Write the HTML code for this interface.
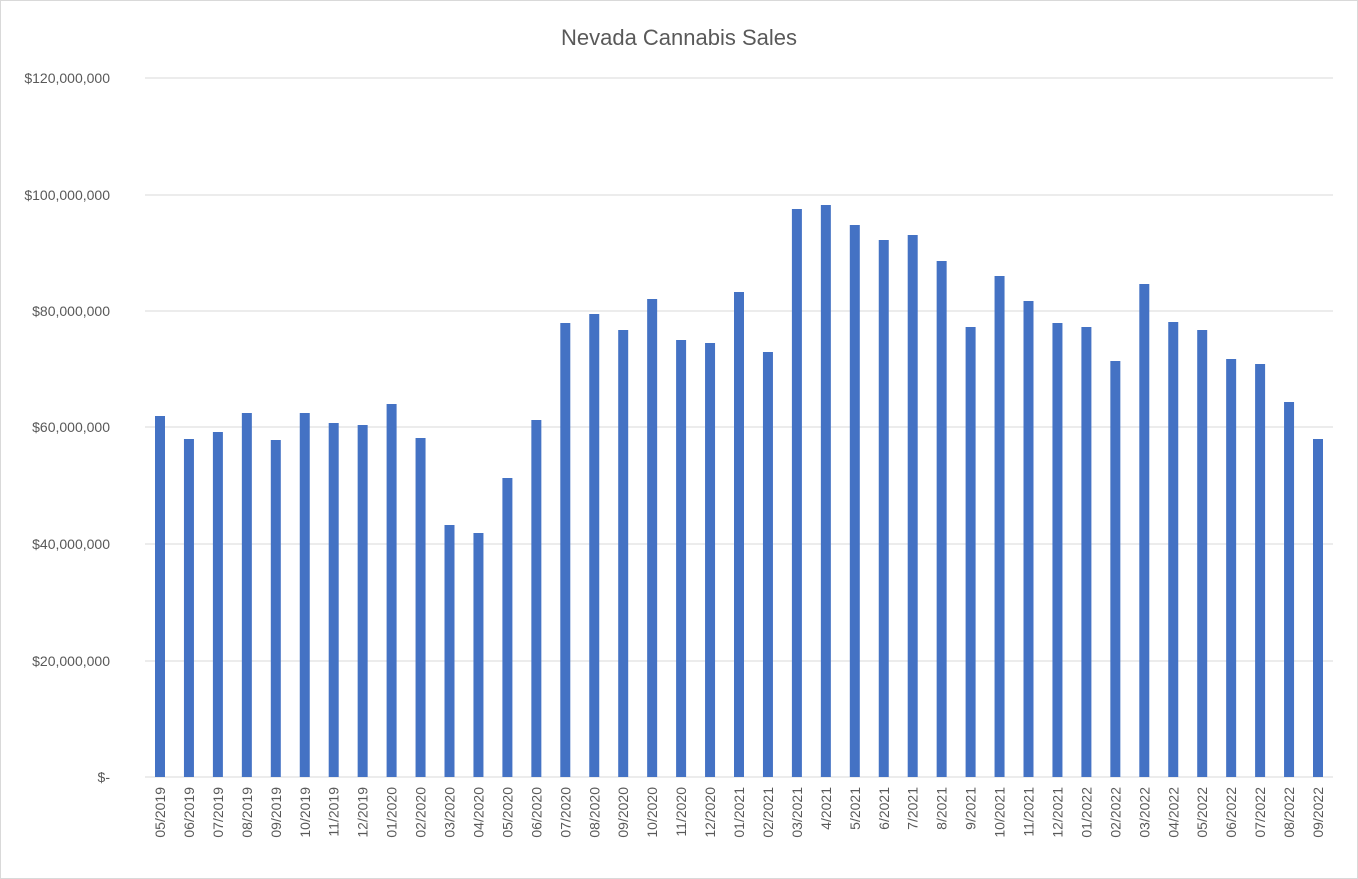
<!DOCTYPE html>
<html><head><meta charset="utf-8"><style>
html,body{margin:0;padding:0;background:#fff;}
svg{display:block;font-family:"Liberation Sans",sans-serif;}
</style></head><body>
<svg width="1358" height="879" viewBox="0 0 1358 879" xmlns="http://www.w3.org/2000/svg">
<rect x="0.5" y="0.5" width="1357" height="878" fill="#fff" stroke="#d9d9d9"/>
<text x="679" y="45" font-size="22" fill="#595959" text-anchor="middle">Nevada Cannabis Sales</text>
<g stroke="#d9d9d9" stroke-width="1">
<line x1="145" x2="1333" y1="78" y2="78"/>
<line x1="145" x2="1333" y1="195" y2="195"/>
<line x1="145" x2="1333" y1="311" y2="311"/>
<line x1="145" x2="1333" y1="427" y2="427"/>
<line x1="145" x2="1333" y1="544" y2="544"/>
<line x1="145" x2="1333" y1="661" y2="661"/>
<line x1="145" x2="1333" y1="777" y2="777"/>
</g>
<g font-size="14" fill="#595959" text-anchor="end">
<text x="110" y="83">$120,000,000</text>
<text x="110" y="200">$100,000,000</text>
<text x="110" y="316">$80,000,000</text>
<text x="110" y="432">$60,000,000</text>
<text x="110" y="549">$40,000,000</text>
<text x="110" y="666">$20,000,000</text>
<text x="110" y="782">$-</text>
</g>
<g id="bars" fill="#4472c4"></g>
<g id="labels" font-size="14" fill="#595959"></g>
<script>
var tops=[416,439,432,413,440,413,423,425,404,438,525,533,478,420,323,314,330,299,340,343,292,352,209,205,225,240,235,261,327,276,301,323,327,361,284,322,330,359,364,402,439];
var labs=["05/2019","06/2019","07/2019","08/2019","09/2019","10/2019","11/2019","12/2019","01/2020","02/2020","03/2020","04/2020","05/2020","06/2020","07/2020","08/2020","09/2020","10/2020","11/2020","12/2020","01/2021","02/2021","03/2021","4/2021","5/2021","6/2021","7/2021","8/2021","9/2021","10/2021","11/2021","12/2021","01/2022","02/2022","03/2022","04/2022","05/2022","06/2022","07/2022","08/2022","09/2022"];
var ns="http://www.w3.org/2000/svg",b=document.getElementById("bars"),l=document.getElementById("labels");
for(var i=0;i<41;i++){var cx=160+i*28.95;
var r=document.createElementNS(ns,"rect");r.setAttribute("x",cx-5);r.setAttribute("y",tops[i]);r.setAttribute("width",10);r.setAttribute("height",777-tops[i]);b.appendChild(r);
var t=document.createElementNS(ns,"text");t.setAttribute("text-anchor","end");t.setAttribute("transform","translate("+(cx+5)+",787) rotate(-90)");t.textContent=labs[i];l.appendChild(t);}
</script>
</svg>
</body></html>
